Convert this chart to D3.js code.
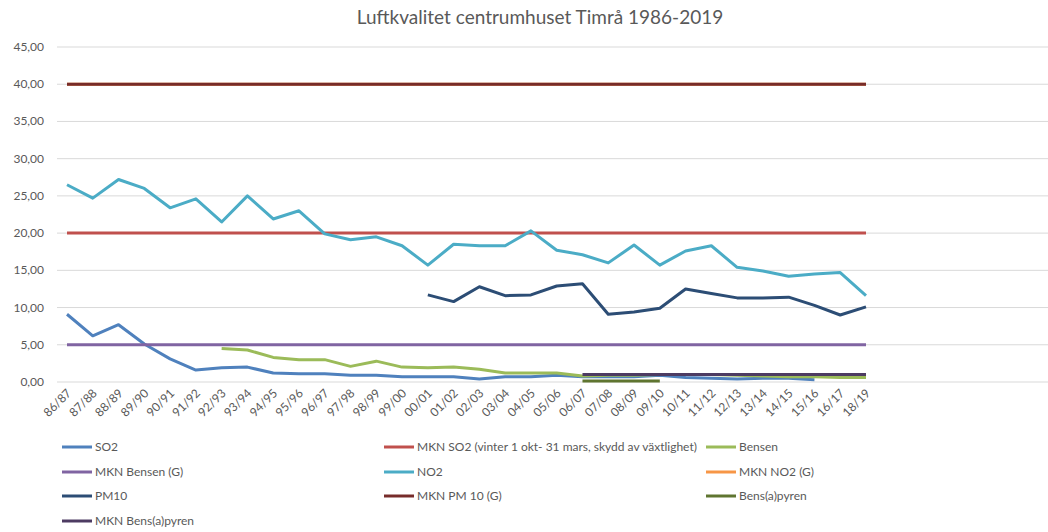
<!DOCTYPE html>
<html>
<head>
<meta charset="utf-8">
<script src="https://cdn.jsdelivr.net/npm/d3@7"></script>
<style>
  body { margin: 0; background: #fff; }
  text { font-family: Lato, "Open Sans", sans-serif; fill: #595959; }
</style>
</head>
<body>
<svg id="chart" width="1048" height="532"></svg>
<script>
// categories (season)
const seasons = ['86/87','87/88','88/89','89/90','90/91','91/92','92/93','93/94','94/95','95/96',
  '96/97','97/98','98/99','99/00','00/01','01/02','02/03','03/04','04/05','05/06','06/07','07/08',
  '08/09','09/10','10/11','11/12','12/13','13/14','14/15','15/16','16/17','18/19']

const so2 = [9.1,6.2,7.7,5.1,3.1,1.6,1.9,2.0,1.2,1.1,1.1,0.9,0.9,0.7,0.7,0.7,0.4,0.7,0.7,0.9,
  0.7,0.7,0.7,0.9,0.6,0.5,0.4,0.5,0.5,0.3,null,null]
const mknSo2 = seasons.map(() => 20)
const bensen = [null,null,null,null,null,null,4.5,4.3,3.3,3.0,3.0,2.1,2.8,2.0,1.9,2.0,1.7,1.2,1.2,1.2,
  0.8,0.9,0.9,1.0,1.0,1.0,0.9,0.8,0.7,0.7,0.6,0.6]
const mknBensen = seasons.map(() => 5)
const no2 = [26.5,24.7,27.2,26.0,23.4,24.6,21.5,25.0,21.9,23.0,19.9,19.1,19.5,18.3,15.7,18.5,18.3,18.3,
  20.3,17.7,17.1,16.0,18.4,15.7,17.6,18.3,15.4,14.9,14.2,14.5,14.7,11.6]
const mknNo2 = seasons.map(() => 40)
const pm10 = [null,null,null,null,null,null,null,null,null,null,null,null,null,null,11.7,10.8,12.8,11.6,
  11.7,12.9,13.2,9.1,9.4,9.9,12.5,11.9,11.3,11.3,11.4,10.3,9.0,10.1]
const mknPm10 = seasons.map(() => 40)
const bap = seasons.map((s, i) => (i >= 20 && i <= 23) ? 0.15 : null)
const mknBap = seasons.map((s, i) => i >= 20 ? 1.0 : null)

const yTicks = [0,5,10,15,20,25,30,35,40,45]

const series = [
  { name: 'SO2', values: so2, color: '#4F81BD' },
  { name: 'MKN SO2 (vinter 1 okt- 31 mars, skydd av växtlighet)', values: mknSo2, color: '#C0504D' },
  { name: 'Bensen', values: bensen, color: '#9BBB59' },
  { name: 'MKN Bensen (G)', values: mknBensen, color: '#8064A2' },
  { name: 'NO2', values: no2, color: '#4BACC6' },
  { name: 'MKN NO2 (G)', values: mknNo2, color: '#F79646' },
  { name: 'PM10', values: pm10, color: '#2C4D75' },
  { name: 'MKN PM 10 (G)', values: mknPm10, color: '#772C2A' },
  { name: 'Bens(a)pyren', values: bap, color: '#5F7530' },
  { name: 'MKN Bens(a)pyren', values: mknBap, color: '#4D3B62' }
]

const svg = d3.select('#chart')

const x = d3.scalePoint().domain(seasons).range([67, 866])
const y = d3.scaleLinear().domain([0, 45]).range([382, 47])

// title
svg.append('text')
  .attr('x', 540).attr('y', 24)
  .attr('text-anchor', 'middle')
  .style('font-size', '19px')
  .text('Luftkvalitet centrumhuset Timrå 1986-2019')

// grid + y labels
const grid = svg.append('g')
grid.selectAll('line').data(yTicks).join('line')
  .attr('x1', 57).attr('x2', 1048)
  .attr('y1', d => y(d)).attr('y2', d => y(d))
  .attr('stroke', '#D9D9D9').attr('stroke-width', 1)
grid.selectAll('text').data(yTicks).join('text')
  .attr('x', 44).attr('y', d => y(d) + 4)
  .attr('text-anchor', 'end')
  .style('font-size', '12px')
  .text(d => d3.format('.2f')(d).replace('.', ','))

// x labels
svg.append('g').selectAll('text').data(seasons).join('text')
  .attr('transform', d => `translate(${x(d) + 5},${394}) rotate(-45)`)
  .attr('text-anchor', 'end')
  .style('font-size', '12px')
  .text(d => d)

// lines
const line = d3.line()
  .defined(d => d.v !== null)
  .x(d => x(d.s))
  .y(d => y(d.v))

svg.append('g').selectAll('path').data(series).join('path')
  .attr('d', d => line(d.values.map((v, i) => ({ s: seasons[i], v }))))
  .attr('fill', 'none')
  .attr('stroke', d => d.color)
  .attr('stroke-width', 3)
  .attr('stroke-linejoin', 'round')

// legend
const legendCols = [62, 384, 706]
const legendRows = [447, 472, 496, 521]
const legend = svg.append('g').selectAll('g').data(series).join('g')
  .attr('transform', (d, i) => `translate(${legendCols[i % 3]},${legendRows[Math.floor(i / 3)]})`)
legend.append('line')
  .attr('x1', 0).attr('x2', 30)
  .attr('stroke', d => d.color).attr('stroke-width', 3)
legend.append('text')
  .attr('x', 33).attr('y', 4)
  .style('font-size', '12px')
  .text(d => d.name)
</script>
</body>
</html>
